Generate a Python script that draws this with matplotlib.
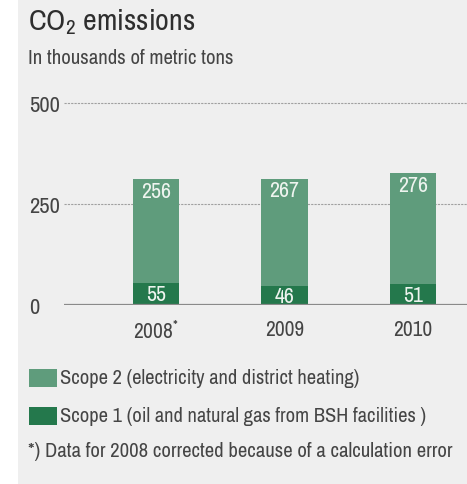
import matplotlib
matplotlib.use('Agg')
import matplotlib.pyplot as plt
from matplotlib.patches import Rectangle
from matplotlib import font_manager

# pick a narrow face if one is installed
names = sorted({f.name for f in font_manager.fontManager.ttflist})
narrow = [n for n in names if 'Narrow' in n or 'Condensed' in n]
stretch = 'normal'
if narrow:
    FONT = narrow[0]
else:
    FONT = 'DejaVu Sans'
    cond = [f for f in font_manager.fontManager.ttflist
            if f.name == 'DejaVu Sans' and f.stretch == 'condensed']
    if cond:
        stretch = 'condensed'
    else:
        FONT = 'Roboto'
matplotlib.rcParams['font.family'] = [FONT, 'DejaVu Sans']
matplotlib.rcParams['font.stretch'] = stretch
matplotlib.rcParams['mathtext.fontset'] = 'custom'
matplotlib.rcParams['mathtext.rm'] = FONT
matplotlib.rcParams['mathtext.it'] = FONT

years = ['2008$^{*}$', '2009', '2010']
scope1 = [55, 46, 51]
scope2 = [256, 267, 276]
yticks = [0, 250, 500]

W, H = 467, 485
BG = '#efefef'
TXT = '#454545'
C2 = '#5f9c7c'
C1 = '#24784c'

fig = plt.figure(figsize=(W / 100, H / 100), dpi=100, facecolor='white')
fig.patches.append(Rectangle((18 / W, 0), 1, 1, transform=fig.transFigure,
                             facecolor=BG, edgecolor='none', zorder=-10))

# zero at y=306px, 500 at y=104px
ppu = (306 - 104) / 500
ytop = 520
ax = fig.add_axes([64 / W, 1 - 306 / H, (W - 64) / W, ytop * ppu / H])
ax.set_facecolor('none')

x = list(range(len(years)))
ax.bar(x, scope1, width=0.36, color=C1, zorder=3)
ax.bar(x, scope2, width=0.36, bottom=scope1, color=C2, zorder=3)

fits = []
for i in x:
    t = ax.text(i, scope1[i] / 2, str(scope1[i]), ha='center', va='center',
                color='#eef4ef', fontsize=13, zorder=4)
    fits.append((t, 20))
    t = ax.text(i, scope1[i] + scope2[i] - 4, str(scope2[i]), ha='center', va='top',
                color='#eef4ef', fontsize=13, zorder=4)
    fits.append((t, 30))

ax.set_xlim(-0.716, 2.42)
ax.set_ylim(0, ytop)
ax.set_yticks(yticks)
ax.set_yticklabels([str(v) for v in yticks])
ax.set_xticks(x)
ax.set_xticklabels(years)
ax.tick_params(axis='y', length=0, pad=25, labelsize=13, labelcolor=TXT)
ax.tick_params(axis='x', length=0, pad=10, labelsize=13, labelcolor=TXT)
for lab in ax.get_yticklabels():
    lab.set_horizontalalignment('left')

for v in yticks[1:]:
    ax.axhline(v, color='#a0a0a0', lw=0.8, ls=(0, (2, 1)), zorder=1)
ax.axhline(0, color='#8a8a8a', lw=1.6, zorder=5)
for s in ax.spines.values():
    s.set_visible(False)

title = fig.text(28 / W, 1 - 7 / H, 'CO$_2$ emissions', ha='left', va='top',
                 fontsize=17, color='#2e2e2e')
sub = fig.text(28 / W, 1 - 49 / H, 'In thousands of metric tons', ha='left', va='top',
               fontsize=12.5, color=TXT)
fits += [(title, 168), (sub, 205)]

leg = []
for ypx, col, label in [(370, C2, 'Scope 2 (electricity and district heating)'),
                        (408, C1, 'Scope 1 (oil and natural gas from BSH facilities )')]:
    fig.patches.append(Rectangle((29 / W, 1 - (ypx + 18) / H), 28 / W, 18 / H,
                                 transform=fig.transFigure, facecolor=col,
                                 edgecolor='none'))
    leg.append(fig.text(60 / W, 1 - (ypx + 9) / H, label, ha='left', va='center',
                        fontsize=13, color=TXT))

foot = fig.text(28 / W, 1 - 452 / H,
                '*) Data for 2008 corrected because of a calculation error',
                ha='left', va='center', fontsize=13, color=TXT)
fits.append((foot, 424))

# scale the font sizes so text widths match the reference
fig.canvas.draw()
r = fig.canvas.get_renderer()
for t, wd in fits:
    t.set_fontsize(t.get_fontsize() * wd / t.get_window_extent(r).width)
# both legend rows share one size
s2 = 13 * 286 / leg[0].get_window_extent(r).width
s1 = 13 * 384 / leg[1].get_window_extent(r).width
for t in leg:
    t.set_fontsize((s1 + s2) / 2)
ylab = ax.get_yticklabels()[-1]
ysz = 13 * 31 / ylab.get_window_extent(r).width
xlab = ax.get_xticklabels()[1]
xsz = 13 * 39 / xlab.get_window_extent(r).width
ax.tick_params(axis='y', labelsize=ysz)
ax.tick_params(axis='x', labelsize=xsz)

fig.savefig('out.png', dpi=100, facecolor=fig.get_facecolor())
